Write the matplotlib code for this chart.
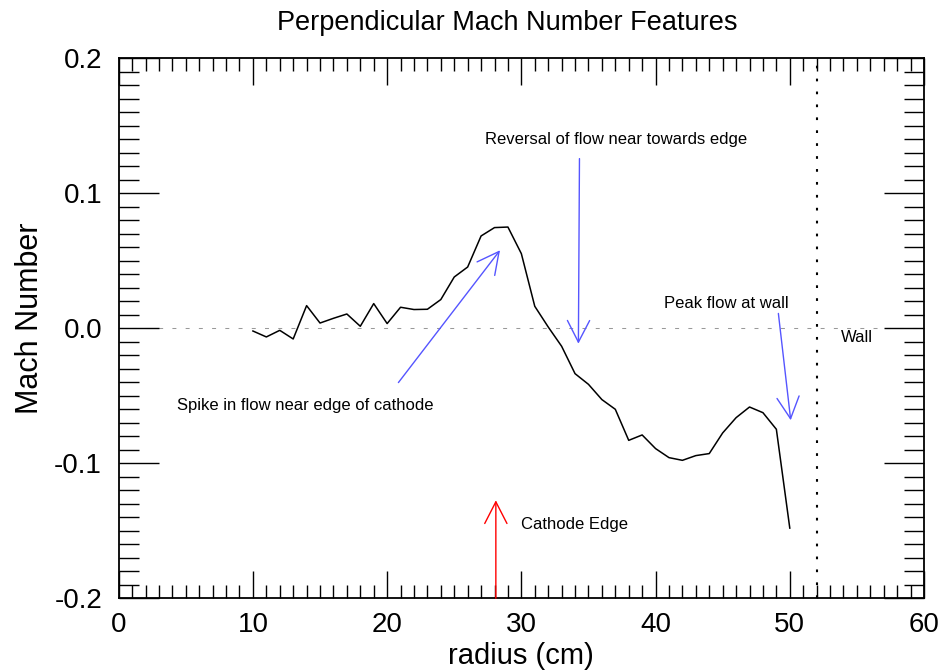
import matplotlib
matplotlib.use("Agg")
import matplotlib.pyplot as plt
from matplotlib.ticker import MultipleLocator, FormatStrFormatter

plt.rcParams['font.family'] = ['Liberation Sans', 'DejaVu Sans']

# Data
radius = list(range(10, 51))
mach = [-0.002, -0.0064, -0.0015, -0.0079, 0.0168, 0.0039, 0.0074, 0.0106, 0.0015,
        0.0183, 0.0035, 0.0156, 0.0139, 0.0141, 0.0213, 0.038, 0.0454, 0.0684,
        0.0746, 0.075, 0.0553, 0.0163, 0.001, -0.0133, -0.0336, -0.0415, -0.0528,
        -0.060, -0.083, -0.079, -0.0891, -0.0958, -0.0978, -0.0943, -0.0928,
        -0.0775, -0.0662, -0.0583, -0.0625, -0.0748, -0.148]

wall_x = 52
cathode_x = 28.1

title = "Perpendicular Mach Number Features"
xlabel = "radius (cm)"
ylabel = "Mach Number"
xticks = [0, 10, 20, 30, 40, 50, 60]
yticks = [-0.2, -0.1, 0.0, 0.1, 0.2]

W, H = 941, 672
fig = plt.figure(figsize=(W / 100, H / 100), dpi=100)
ax = fig.add_axes([118.7 / W, 1 - 598.3 / H, (924 - 118.7) / W, 540 / H])

ax.set_xlim(0, 60)
ax.set_ylim(-0.2, 0.2)

ax.axhline(0, color='#999999', lw=0.75, dashes=(3.8, 8.9), zorder=1)
ax.axvline(wall_x, color='black', lw=1.5, dashes=(1.3, 4.9), zorder=1)
ax.plot(radius, mach, color='black', lw=1.1, zorder=3)

blue = '#5555ff'

def arrow(x0, y0, x1, y1, color):
    ax.annotate('', xy=(x1, y1), xytext=(x0, y0),
                arrowprops=dict(arrowstyle='->,head_length=1.56,head_width=0.8',
                                color=color, lw=1.0, shrinkA=0, shrinkB=0,
                                mutation_scale=10), zorder=4)

arrow(34.33, 0.1257, 34.25, -0.0114, blue)
arrow(20.84, -0.0402, 28.41, 0.0578, blue)
arrow(49.15, 0.011, 50.07, -0.0681, blue)
arrow(cathode_x, -0.2, cathode_x, -0.1274, '#ff0000')

def px2data(px, py):
    return (px - 118.7) / 13.42, (328 - py) / 1350.0

fs = 12
for txt, (px, py), ha in [("Reversal of flow near towards edge", (616.5, 144), 'center'),
                          ("Spike in flow near edge of cathode", (305, 410), 'center'),
                          ("Peak flow at wall", (726, 308), 'center'),
                          ("Wall", (857, 341.7), 'center'),
                          ("Cathode Edge", (521, 529), 'left')]:
    x, y = px2data(px, py)
    ax.text(x, y, txt, ha=ha, va='baseline', fontsize=fs, zorder=5)

ax.xaxis.set_major_locator(MultipleLocator(10))
ax.xaxis.set_minor_locator(MultipleLocator(1))
ax.yaxis.set_major_locator(MultipleLocator(0.1))
ax.yaxis.set_minor_locator(MultipleLocator(0.01))
ax.set_xticks(xticks)
ax.set_yticks(yticks)
ax.xaxis.set_major_formatter(FormatStrFormatter('%d'))
ax.yaxis.set_major_formatter(FormatStrFormatter('%.1f'))

ax.tick_params(axis='both', which='both', direction='in', top=True, right=True,
               width=1.0, colors='black')
ax.tick_params(axis='x', which='major', length=19.4, pad=10, labelsize=20)
ax.tick_params(axis='x', which='minor', length=9.7)
ax.tick_params(axis='y', which='major', length=28.8, pad=12, labelsize=20)
ax.tick_params(axis='y', which='minor', length=14.4)
for s in ax.spines.values():
    s.set_linewidth(1.3)

fig.text(520.5 / W, 1 - 664 / H, xlabel, ha='center', va='baseline', fontsize=21)
fig.text(30 / W, 1 - 318.5 / H, ylabel, ha='center', va='center', rotation=90, fontsize=22)
fig.text(507.5 / W, 1 - 30 / H, title, ha='center', va='baseline', fontsize=19.5)

fig.savefig('out.png', dpi=100)
